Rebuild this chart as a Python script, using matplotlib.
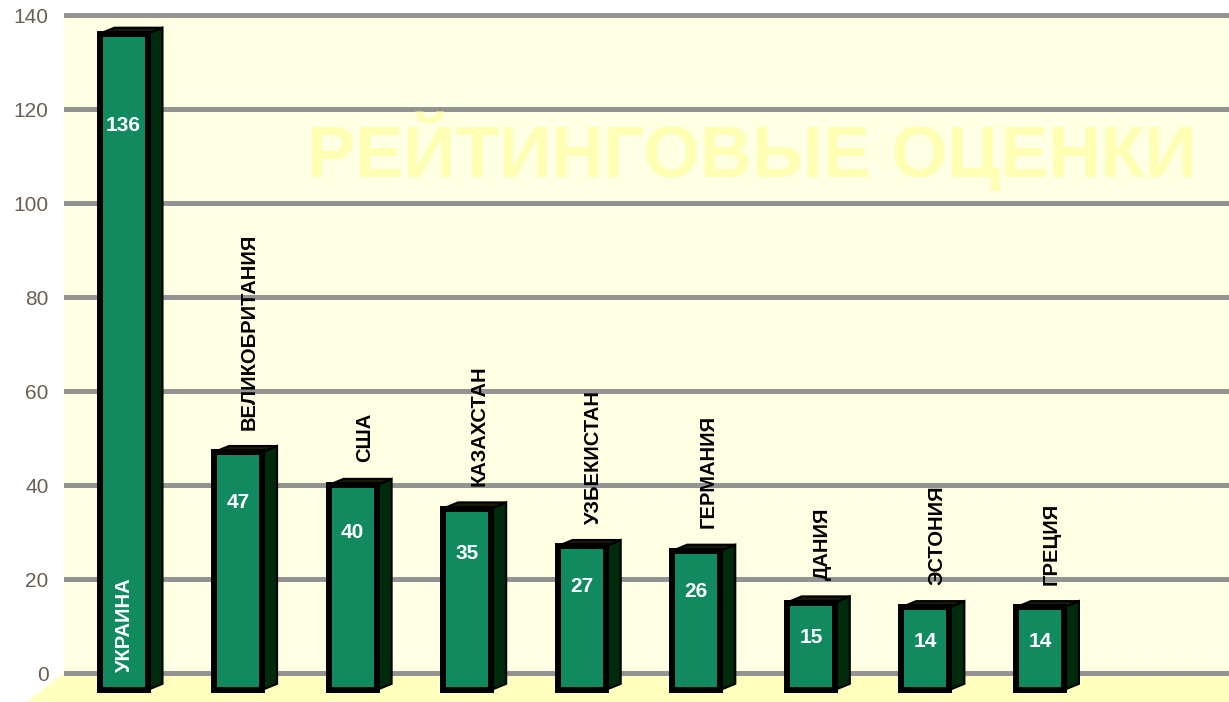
import matplotlib
matplotlib.use('Agg')
import matplotlib.pyplot as plt
from matplotlib.patches import Polygon, Rectangle

# data
countries = ['УКРАИНА', 'ВЕЛИКОБРИТАНИЯ', 'США', 'КАЗАХСТАН', 'УЗБЕКИСТАН',
             'ГЕРМАНИЯ', 'ДАНИЯ', 'ЭСТОНИЯ', 'ГРЕЦИЯ']
values = [136, 47, 40, 35, 27, 26, 15, 14, 14]
yticks = [0, 20, 40, 60, 80, 100, 120, 140]
title = 'РЕЙТИНГОВЫЕ ОЦЕНКИ'

plt.rcParams['font.family'] = ['Liberation Sans', 'DejaVu Sans']

fig = plt.figure(figsize=(12.29, 7.02), dpi=100)
fig.patch.set_facecolor('white')
ax = fig.add_axes([64 / 1229, 0, 1 - 64 / 1229, 1 - 12 / 702])
ax.set_facecolor('white')
ax.set_xlim(-0.52, 9.65)
ax.set_ylim(-6.17, 140.64)
for s in ax.spines.values():
    s.set_visible(False)

x0, x1 = ax.get_xlim()

# wall and floor
ax.add_patch(Rectangle((x0, 0), x1 - x0, 140, facecolor='#ffffe4', edgecolor='none', zorder=0))
ax.add_patch(Polygon([(x0, 0), (x1, 0), (x1, -6.2), (x0 - 0.33, -6.2)], closed=True,
                     facecolor='#ffffbe', edgecolor='none', zorder=0, clip_on=False))

for t in yticks:
    ax.axhline(t, color='#939393', lw=3.6, zorder=1)

ax.text(5.48, 110.8, title, fontsize=52, fontweight='bold', color='#ffffb4',
        ha='center', va='center', zorder=1)

# bars with pseudo 3d sides
pos = list(range(len(values)))
base = -3.6
w = 0.42
dx, dy = 0.13, 1.3
ax.bar(pos, [v - base for v in values], bottom=base, width=w, color='#128a60',
       edgecolor='black', linewidth=4.3, zorder=4)
for p, v in zip(pos, values):
    xr = p + w / 2
    xl = p - w / 2
    ax.add_patch(Polygon([(xr, base), (xr + dx, base + dy), (xr + dx, v + dy), (xr, v)],
                         closed=True, facecolor='#002a0c', edgecolor='black', lw=1.5, zorder=3))
    ax.add_patch(Polygon([(xl, v), (xl + dx, v + dy), (xr + dx, v + dy), (xr, v)],
                         closed=True, facecolor='#1a1a0a', edgecolor='black', lw=1.5, zorder=3))

# value labels
for p, v in zip(pos, values):
    ax.text(p, 0.9 * v - 6, str(v), fontsize=15, fontweight='bold', color='white',
            ha='center', va='center', zorder=5)

# country labels
for i, (p, v, c) in enumerate(zip(pos, values, countries)):
    if i == 0:
        ax.text(p + 0.01, 0.3, c, rotation=90, fontsize=14.5, fontweight='bold', color='white',
                ha='center', va='bottom', zorder=5)
    else:
        ax.text(p + 0.1, v + 4.8, c, rotation=90, fontsize=14.5, fontweight='bold', color='black',
                ha='center', va='bottom', zorder=5)

ax.set_xticks([])
ax.set_yticks(yticks)
ax.set_yticklabels([str(t) for t in yticks], fontsize=15, color='#6b6050')
ax.tick_params(axis='y', length=0, pad=11)

fig.savefig('out.png', dpi=100)
